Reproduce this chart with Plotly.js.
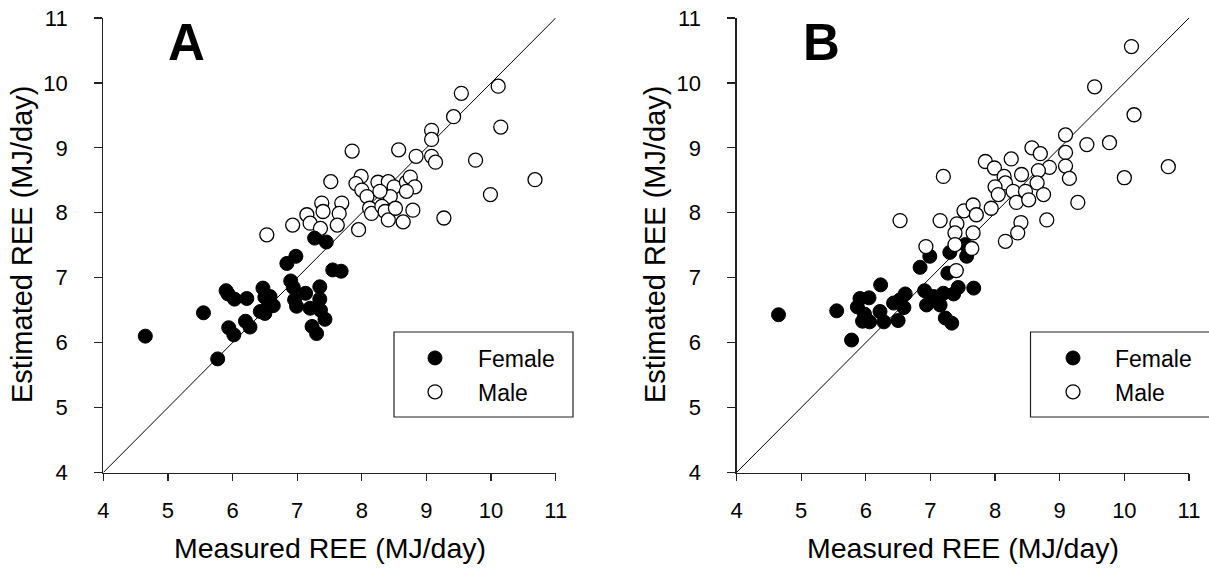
<!DOCTYPE html>
<html>
<head>
<meta charset="utf-8">
<script src="https://cdn.plot.ly/plotly-3.0.1.min.js"></script>
<style>html,body{margin:0;padding:0;background:#fff;}#chart{width:1209px;height:571px;}</style>
</head>
<body>
<div id="chart"></div>
<script>
// ---- data ----
const axisTicks = [4, 5, 6, 7, 8, 9, 10, 11];
const identityLine = [4, 11];

const femaleA_x = [4.65,5.55,5.77,5.90,5.93,6.03,6.22,5.94,6.02,6.20,6.27,6.47,6.50,6.58,6.43,6.55,6.63,6.50,6.84,6.98,6.90,6.94,6.96,6.99,7.13,7.20,7.23,7.30,7.35,7.35,7.36,7.43,7.27,7.45,7.55,7.68];
const femaleA_y = [6.10,6.46,5.75,6.80,6.75,6.67,6.68,6.23,6.12,6.33,6.24,6.84,6.70,6.71,6.48,6.55,6.57,6.45,7.22,7.33,6.95,6.85,6.66,6.56,6.76,6.53,6.25,6.14,6.86,6.67,6.50,6.36,7.61,7.55,7.12,7.10];

const maleA_x = [9.54,10.11,9.42,10.15,9.08,9.08,7.85,8.57,8.84,9.08,9.14,9.76,10.68,9.99,9.27,7.52,7.99,7.91,8.00,8.08,8.25,8.41,8.50,8.69,8.75,8.82,8.69,8.44,8.28,8.12,8.15,8.31,8.36,8.41,8.52,8.64,8.79,7.95,7.38,7.15,7.40,7.69,7.65,7.20,7.36,7.62,6.53,6.93];
const maleA_y = [9.84,9.95,9.48,9.32,9.27,9.13,8.95,8.97,8.87,8.87,8.78,8.81,8.51,8.28,7.92,8.48,8.56,8.45,8.35,8.25,8.47,8.48,8.40,8.47,8.55,8.40,8.33,8.25,8.33,8.07,7.99,8.10,8.02,7.89,8.07,7.86,8.04,7.74,8.15,7.97,8.02,8.15,7.99,7.84,7.76,7.81,7.66,7.81];

const femaleB_x = [4.65,5.55,5.78,6.23,5.91,6.05,5.87,5.98,5.95,6.06,6.22,6.28,6.43,6.53,6.61,6.50,6.59,6.84,6.99,6.91,6.94,7.05,7.15,7.20,7.23,7.33,7.30,7.27,7.36,7.43,7.67,7.54,7.56];
const femaleB_y = [6.43,6.49,6.04,6.89,6.68,6.69,6.55,6.44,6.33,6.32,6.48,6.32,6.61,6.66,6.75,6.34,6.54,7.16,7.33,6.80,6.58,6.71,6.58,6.76,6.38,6.30,7.39,7.07,6.75,6.85,6.84,7.51,7.33];

const maleB_x = [10.11,9.54,10.15,9.09,9.42,9.77,10.68,10.00,9.28,9.09,9.09,9.15,7.20,7.85,7.99,8.25,8.57,8.70,8.84,8.67,8.41,8.14,8.16,8.00,8.05,8.28,8.47,8.65,8.75,8.33,8.52,7.52,7.66,7.71,7.94,7.15,7.41,7.38,7.66,8.40,8.80,8.35,8.16,6.53,6.93,7.38,7.64,7.40];
const maleB_y = [10.56,9.94,9.51,9.20,9.05,9.08,8.71,8.54,8.16,8.93,8.72,8.53,8.56,8.79,8.69,8.83,9.00,8.91,8.70,8.65,8.59,8.56,8.46,8.40,8.28,8.33,8.33,8.46,8.28,8.16,8.20,8.03,8.12,7.97,8.07,7.88,7.83,7.69,7.69,7.85,7.89,7.69,7.56,7.88,7.48,7.51,7.45,7.11];

const seriesNames = ['Female', 'Male'];
const panelLabels = ['A', 'B'];
const xTitle = 'Measured REE (MJ/day)';
const yTitle = 'Estimated REE (MJ/day)';

// ---- styling ----
const FONT = 'Liberation Sans, Arial, Helvetica, sans-serif';
const W = 1209, H = 571;
const px = v => v / W;            // pixel -> paper x
const py = v => 1 - v / H;        // pixel -> paper y

const femaleMarker = {symbol: 'circle', size: 14, color: '#000', line: {color: '#000', width: 1}};
const maleMarker = {symbol: 'circle', size: 14, color: '#fff', line: {color: '#000', width: 1.3}};

function female(x, y, xa, ya, leg) {
  return {type: 'scatter', mode: 'markers', x: x, y: y, xaxis: xa, yaxis: ya, name: seriesNames[0],
    marker: femaleMarker, legend: leg, legendrank: 1, legendgroup: leg + 'f', cliponaxis: false};
}
function male(x, y, xa, ya, leg) {
  return {type: 'scatter', mode: 'markers', x: x, y: y, xaxis: xa, yaxis: ya, name: seriesNames[1],
    marker: maleMarker, legend: leg, legendrank: 2, legendgroup: leg + 'm', cliponaxis: false};
}
function diag(xa, ya) {
  return {type: 'scatter', mode: 'lines', x: identityLine, y: identityLine, xaxis: xa, yaxis: ya,
    line: {color: '#000', width: 1}, showlegend: false, hoverinfo: 'skip'};
}

const traces = [
  diag('x', 'y'),
  male(maleA_x, maleA_y, 'x', 'y', 'legend'),
  female(femaleA_x, femaleA_y, 'x', 'y', 'legend'),
  diag('x2', 'y2'),
  female(femaleB_x, femaleB_y, 'x2', 'y2', 'legend2'),
  male(maleB_x, maleB_y, 'x2', 'y2', 'legend2')
];

function xAxis(domain, anchor) {
  return {domain: domain, anchor: anchor, range: [4, 11], tickmode: 'array', tickvals: axisTicks,
    ticktext: axisTicks.map(String), showline: true, linecolor: '#222', linewidth: 1.2,
    ticks: 'outside', ticklen: 7, tickwidth: 1.2, tickcolor: '#222', showgrid: false, zeroline: false,
    ticklabelstandoff: 11, tickfont: {family: FONT, size: 22, color: '#000'}, fixedrange: true};
}
function yAxis(domain, anchor) {
  return {domain: domain, anchor: anchor, range: [4, 11], tickmode: 'array', tickvals: axisTicks,
    ticktext: axisTicks.map(String), showline: true, linecolor: '#222', linewidth: 1.2,
    ticks: 'outside', ticklen: 8, tickwidth: 1.2, tickcolor: '#222', showgrid: false, zeroline: false,
    ticklabelstandoff: 22, tickfont: {family: FONT, size: 22, color: '#000'}, fixedrange: true};
}

const yDom = [py(472.5), py(18)];
const xDomA = [px(103.3), px(555.7)];
const xDomB = [px(736.5), px(1189)];

function legendAt(leftPx, w) {
  return {x: px(leftPx), xanchor: 'left', y: py(375), yanchor: 'middle', bgcolor: 'rgba(0,0,0,0)',
    borderwidth: 0, font: {family: FONT, size: 23, color: '#000'}, itemwidth: w,
    traceorder: 'grouped', tracegroupgap: 1, itemsizing: 'trace'};
}

const annotations = [
  {text: '<b>' + panelLabels[0] + '</b>', x: px(186), y: py(42), xref: 'paper', yref: 'paper', showarrow: false,
    font: {family: FONT, size: 51, color: '#000'}, xanchor: 'center', yanchor: 'middle'},
  {text: '<b>' + panelLabels[1] + '</b>', x: px(821), y: py(42), xref: 'paper', yref: 'paper', showarrow: false,
    font: {family: FONT, size: 51, color: '#000'}, xanchor: 'center', yanchor: 'middle'},
  {text: xTitle, x: px(329.5), y: py(548), xref: 'paper', yref: 'paper', showarrow: false,
    font: {family: FONT, size: 28.5, color: '#000'}, xanchor: 'center', yanchor: 'middle'},
  {text: xTitle, x: px(962.7), y: py(548), xref: 'paper', yref: 'paper', showarrow: false,
    font: {family: FONT, size: 28.5, color: '#000'}, xanchor: 'center', yanchor: 'middle'},
  {text: yTitle, x: px(22), y: py(245), xref: 'paper', yref: 'paper', showarrow: false, textangle: -90,
    font: {family: FONT, size: 29, color: '#000'}, xanchor: 'center', yanchor: 'middle'},
  {text: yTitle, x: px(655), y: py(245), xref: 'paper', yref: 'paper', showarrow: false, textangle: -90,
    font: {family: FONT, size: 29, color: '#000'}, xanchor: 'center', yanchor: 'middle'}
];

const shapes = [
  {type: 'rect', xref: 'paper', yref: 'paper', x0: px(394), x1: px(573), y0: py(417), y1: py(332),
    line: {color: '#222', width: 1.2}, fillcolor: 'rgba(0,0,0,0)'},
  {type: 'rect', xref: 'paper', yref: 'paper', x0: px(1030.5), x1: px(1215), y0: py(417), y1: py(332),
    line: {color: '#222', width: 1.2}, fillcolor: 'rgba(0,0,0,0)'}
];

const layout = {
  width: W, height: H, margin: {l: 0, r: 0, t: 0, b: 0}, paper_bgcolor: '#fff', plot_bgcolor: '#fff',
  font: {family: FONT, color: '#000'},
  xaxis: xAxis(xDomA, 'y'), yaxis: yAxis(yDom, 'x'),
  xaxis2: xAxis(xDomB, 'y2'), yaxis2: yAxis(yDom, 'x2'),
  legend: legendAt(392, 76), legend2: legendAt(1031, 74),
  annotations: annotations, shapes: shapes, showlegend: true
};

Plotly.newPlot('chart', traces, layout, {displayModeBar: false, staticPlot: true});
</script>
</body>
</html>
